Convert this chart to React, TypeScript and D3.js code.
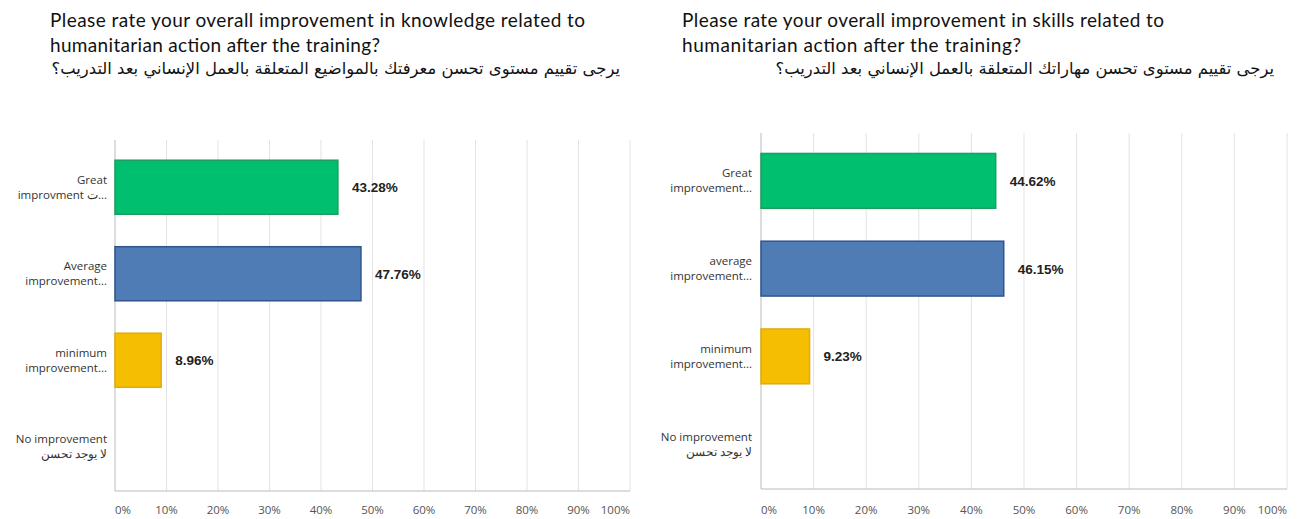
import React from "react";
import * as d3 from "d3";

// ---------- data ----------
const knowledgeTitle = [
  "Please rate your overall improvement in knowledge related to",
  "humanitarian action after the training?",
];
const knowledgeTitleAr = "يرجى تقييم مستوى تحسن معرفتك بالمواضيع  المتعلقة بالعمل الإنساني بعد التدريب؟";
const skillsTitle = [
  "Please rate your overall improvement in skills related to",
  "humanitarian action after the training?",
];
const skillsTitleAr = "يرجى تقييم مستوى تحسن مهاراتك  المتعلقة بالعمل الإنساني بعد التدريب؟";

const knowledgeCategories = [
  ["Great", "improvment ت..."],
  ["Average", "improvement..."],
  ["minimum", "improvement..."],
  ["No improvement", "لا يوجد تحسن"],
];
const skillsCategories = [
  ["Great", "improvement..."],
  ["average", "improvement..."],
  ["minimum", "improvement..."],
  ["No improvement", "لا يوجد تحسن"],
];
const knowledgeValues = [43.28, 47.76, 8.96, 0];
const skillsValues = [44.62, 46.15, 9.23, 0];
const xTicks = [0, 10, 20, 30, 40, 50, 60, 70, 80, 90, 100];
const barColors = ["#00BF6F", "#507CB6", "#F6BE00", "#D25F90"];
const barStrokes = ["#1E9E5E", "#2E5590", "#E0AA10", "#B04070"];

type PanelProps = {
  title: string[];
  titleAr: string;
  categories: string[][];
  values: number[];
  titleX: number;
  titleWidths: number[];
  arRight: number;
  arSize: number;
  x0: number;
  x1: number;
  y0: number;
  y1: number;
  labelX: number;
};

const titleFont = "Lato, 'Open Sans', sans-serif";
const labelFont = "'Open Sans', 'Liberation Sans', sans-serif";

function Panel(p: PanelProps) {
  const x = d3.scaleLinear().domain([0, 100]).range([p.x0, p.x1]);
  const idx = p.categories.map((_, i) => String(i));
  const y = d3
    .scaleBand<string>()
    .domain(idx)
    .range([p.y0, p.y1])
    .paddingInner(0.375)
    .paddingOuter(0.1875);
  const axisY = p.y1 + 1;
  return (
    <g>
      {p.title.map((line, i) => (
        <text
          key={"title" + i}
          x={p.titleX}
          y={27 + i * 25}
          fontFamily={titleFont}
          fontSize={19}
          fill="#111"
          textLength={p.titleWidths[i]}
          lengthAdjust="spacing"
        >
          {line}
        </text>
      ))}
      <text
        x={p.arRight}
        y={74}
        fontFamily="'DejaVu Sans', sans-serif"
        fontSize={p.arSize}
        fill="#111"
        textAnchor="end"
      >
        {p.titleAr}
      </text>
      {/* gridlines */}
      {xTicks.map((t) =>
        t === 0 ? null : (
          <line
            key={"g" + t}
            x1={x(t)}
            x2={x(t)}
            y1={p.y0 - 4}
            y2={axisY}
            stroke="#e3e3e3"
            strokeWidth={1}
          />
        )
      )}
      {/* axes */}
      <line x1={x(0)} x2={x(0)} y1={p.y0 - 4} y2={axisY} stroke="#bbb" strokeWidth={1} />
      <line x1={x(0)} x2={x(100)} y1={axisY} y2={axisY} stroke="#bbb" strokeWidth={1} />
      {/* tick labels */}
      {xTicks.map((t, i) => (
        <text
          key={"t" + t}
          x={x(t)}
          y={514}
          fontFamily={labelFont}
          fontSize={11.5}
          fill="#555"
          textAnchor={i === 0 ? "start" : i === xTicks.length - 1 ? "end" : "middle"}
        >
          {t + "%"}
        </text>
      ))}
      {/* bars */}
      {p.values.map((v, i) => {
        const yy = y(String(i)) as number;
        const h = y.bandwidth();
        const cy = yy + h / 2;
        return (
          <g key={"b" + i}>
            {v > 0 && (
              <rect
                x={x(0)}
                y={yy}
                width={x(v) - x(0)}
                height={h}
                fill={barColors[i]}
                stroke={barStrokes[i]}
                strokeWidth={1.5}
              />
            )}
            {v > 0 && (
              <text
                x={x(v) + 14}
                y={cy + 5}
                fontFamily="'Liberation Sans', Arial, sans-serif"
                fontSize={13.5}
                fontWeight="bold"
                fill="#222"
              >
                {v.toFixed(2) + "%"}
              </text>
            )}
            {p.categories[i].map((line, j) => (
              <text
                key={j}
                x={p.labelX}
                y={cy - 7.5 + j * 15 + 4}
                fontFamily={labelFont}
                fontSize={11.5}
                fill="#333"
                textAnchor="end"
              >
                {line}
              </text>
            ))}
          </g>
        );
      })}
    </g>
  );
}

export default function App() {
  return (
    <svg
      width={1298}
      height={519}
      style={{ position: "absolute", left: 0, top: 0, background: "#fff" }}
    >
      <rect width={1298} height={519} fill="#fff" />
      <Panel
        title={knowledgeTitle}
        titleAr={knowledgeTitleAr}
        categories={knowledgeCategories}
        values={knowledgeValues}
        titleX={50}
        titleWidths={[535, 330]}
        arRight={620}
        arSize={16.4}
        x0={115}
        x1={630}
        y0={144}
        y1={490}
        labelX={107}
      />
      <Panel
        title={skillsTitle}
        titleAr={skillsTitleAr}
        categories={skillsCategories}
        values={skillsValues}
        titleX={682}
        titleWidths={[482, 339]}
        arRight={1274}
        arSize={16.4}
        x0={761}
        x1={1287}
        y0={137}
        y1={488}
        labelX={752}
      />
    </svg>
  );
}
